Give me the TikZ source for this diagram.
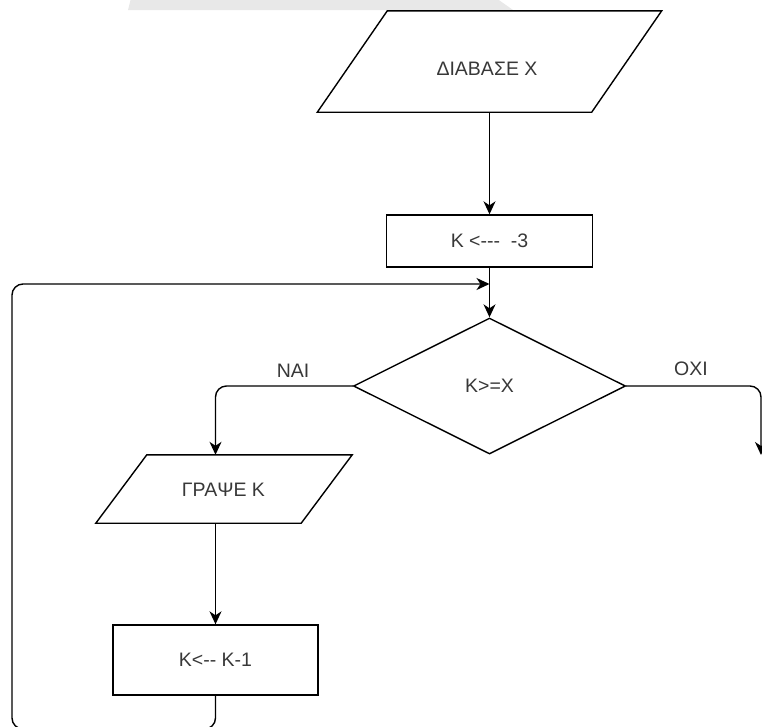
\documentclass[tikz,border=0pt]{standalone}
\usepackage{fontspec}
\setmainfont{Liberation Sans}
\usetikzlibrary{shapes.geometric,arrows.meta,calc}
\definecolor{txt}{HTML}{383838}
\definecolor{bandgray}{HTML}{E8E8E8}
\begin{document}
\begin{tikzpicture}[x=1pt,y=-1pt,
  every node/.style={font=\fontsize{19.5}{23}\selectfont, text=txt},
  frame/.style={draw=black, line width=1.4pt},
  ghost/.style={draw=none, inner sep=0pt},
  conn/.style={line width=1.4pt, rounded corners=11pt, -{Stealth[length=13pt,width=12pt,inset=4pt]}},
  plain/.style={line width=1.4pt, rounded corners=11pt}]
\useasboundingbox (0,0) rectangle (762,726);
\clip (0,0) rectangle (762,726);
% light band at top
\fill[bandgray] (131,-2) -- (496,-2) -- (513,10) -- (128,10) -- cycle;

% read X (parallelogram)
\node[ghost, minimum width=344pt, minimum height=101pt] (read) at (489.5,61.5) {};
\draw[frame] ($(read.north west)+(70,0)$) -- (read.north east) -- ($(read.south east)+(-70,0)$) -- (read.south west) -- cycle;
\node (readtxt) at (487,69) {ΔΙΑΒΑΣΕ Χ};

% K <--- -3
\node[frame, minimum width=206pt, minimum height=52pt] (init) at (489.5,241) {Κ <{-}{-}{-}\ \ -3};

% decision
\node[frame, diamond, inner sep=0pt, minimum width=272pt, minimum height=136pt] (dec) at (489.5,386) {Κ>=Χ};

% write K (parallelogram)
\node[ghost, minimum width=256pt, minimum height=68pt] (write) at (224,489) {};
\draw[frame] ($(write.north west)+(51,0)$) -- (write.north east) -- ($(write.south east)+(-51,0)$) -- (write.south west) -- cycle;
\node (writetxt) at (223.5,490) {ΓΡΑΨΕ Κ};

% K <-- K-1
\node[frame, minimum width=205pt, minimum height=70pt] (dekr) at (215.5,660) {Κ<{-}{-} Κ-1};

% connection points
\coordinate (j) at (489.5,284);
\coordinate (lb) at (12,729);
\coordinate (oxiend) at (761,455);

% connectors
\draw[conn] (read.south) -- (init.north);
\draw[conn] (init.south) -- (dec.north);
\draw[conn] (dec.west) -| (write.north -| dekr.north);
\draw[conn] (write.south -| dekr.north) -- (dekr.north);
\draw[conn] (dekr.south) |- (lb) |- (j);
\draw[conn] (dec.east) -| (oxiend);

% labels
\node (nai) at (293,371) {ΝΑΙ};
\node (oxi) at (691,369) {ΟΧΙ};
\end{tikzpicture}
\end{document}
